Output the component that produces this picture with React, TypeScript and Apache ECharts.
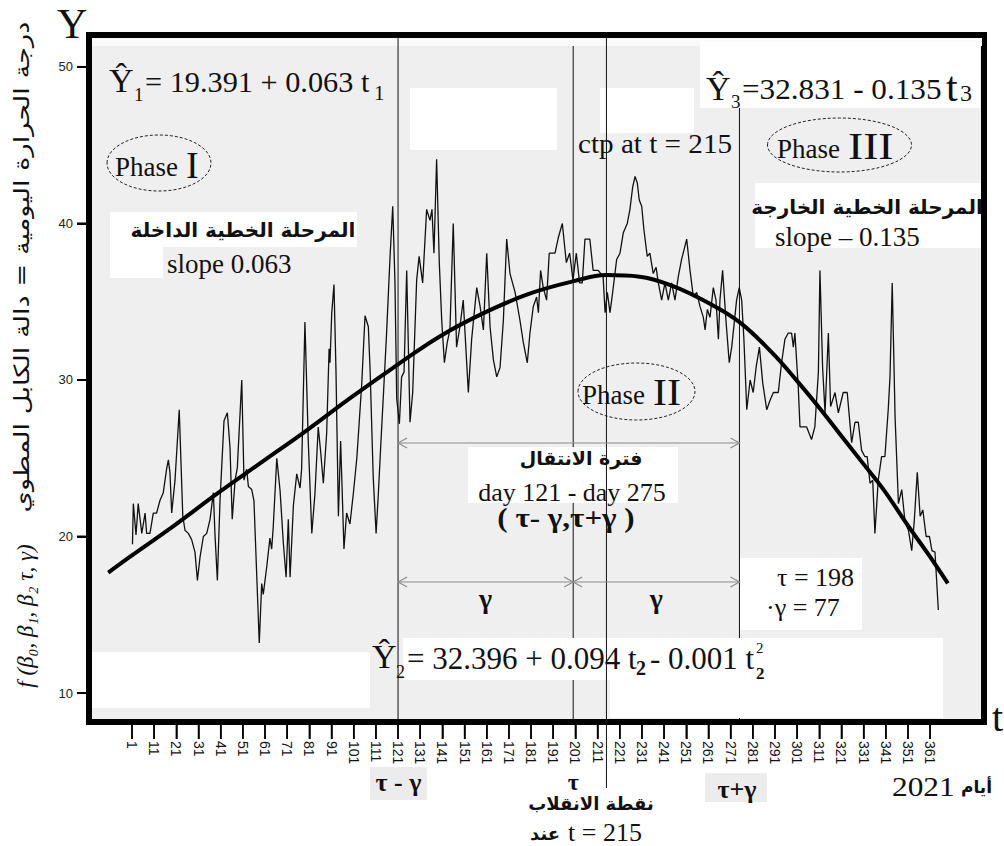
import React, { useEffect, useRef } from "react";
import * as echarts from "echarts";

// observed daily temperature (day of 2021, value)
const obsDays = [
  1.2, 1.6, 2.8, 3.8, 5.4, 6.9, 7.6, 9.1, 10.6, 12.1, 13.6, 15.1, 15.9, 16.6, 17.4, 18.1, 18.9, 20.4, 22.3, 23.9,
  24.9, 26.4, 27.9, 29.4, 30.5, 31.7, 33.2, 34.7, 36.2, 37.7, 38.4, 39.5, 40.7, 42.5, 44.0, 45.2, 46.2, 47.5, 48.5, 50.5,
  51.5, 52.7, 53.5, 55.0, 56.0, 58.4, 59.5, 60.2, 61.8, 63.2, 64.0, 64.7, 66.3, 67.8, 69.2, 70.5, 71.5, 72.3, 73.8, 75.3,
  76.8, 77.5, 79.0, 80.5, 82.1, 83.5, 85.0, 86.1, 87.3, 88.8, 89.9, 90.3, 91.1, 92.1, 93.0, 94.1, 95.1, 96.6, 97.8, 99.3,
  100.8, 102.4, 104.6, 106.1, 107.6, 108.4, 109.8, 111.1, 112.1, 113.3, 114.3, 115.8, 117.4, 118.6, 119.6, 120.4, 121.6, 122.6, 123.7, 124.9,
  126.4, 127.6, 129.4, 130.5, 132.1, 133.9, 135.4, 136.3, 137.2, 138.4, 139.6, 140.7, 141.9, 143.2, 144.4, 145.9, 147.4, 148.9, 150.4, 152.7,
  154.2, 156.5, 158.0, 159.5, 161.0, 162.5, 164.0, 165.5, 167.0, 168.5, 170.0, 171.5, 173.8, 176.0, 177.5, 179.3, 180.5, 182.0, 183.5, 184.3,
  185.3, 186.5, 188.0, 189.2, 191.8, 193.3, 195.1, 196.9, 198.4, 199.9, 201.4, 202.9, 204.1, 205.3, 207.5, 209.0, 211.3, 213.5, 214.4, 215.4,
  216.6, 217.8, 219.6, 221.1, 222.6, 224.4, 225.6, 226.8, 227.9, 228.9, 229.8, 230.9, 231.9, 233.4, 234.6, 236.1, 237.4, 238.4, 239.9, 241.4,
  242.9, 244.4, 245.9, 247.4, 248.9, 251.2, 252.7, 254.2, 255.7, 257.2, 258.7, 259.5, 260.5, 261.7, 263.2, 264.4, 265.5, 266.2, 267.4, 268.9,
  270.4, 271.5, 273.7, 274.9, 276.0, 277.0, 278.3, 279.8, 281.2, 282.5, 284.0, 285.5, 287.3, 288.8, 290.3, 292.5, 294.0, 295.5, 297.0, 298.5,
  299.3, 300.0, 301.5, 302.3, 305.3, 307.5, 309.0, 310.6, 311.3, 312.5, 313.6, 315.1, 316.1, 318.1, 319.6, 321.8, 323.6, 325.6, 327.1, 328.6,
  330.1, 331.6, 332.6, 333.9, 335.1, 336.1, 337.6, 339.1, 340.6, 342.1, 342.9, 343.9, 345.2, 346.7, 348.2, 349.7, 351.2, 352.7, 353.8, 355.2,
  356.5, 357.7, 359.2, 360.7, 361.8, 363.2, 364.7,
];
const obsTemps = [
  19.5, 22.1, 20.1, 22.1, 20.2, 21.5, 20.2, 20.2, 21.5, 21.5, 22.3, 22.8, 23.6, 24.3, 24.9, 24.1, 21.5, 23.6, 28.1, 21.3,
  20.4, 20.2, 19.8, 19.0, 17.2, 18.7, 20.0, 20.2, 21.1, 22.8, 20.2, 17.2, 22.3, 27.4, 27.9, 25.7, 21.1, 23.6, 24.4, 30.0,
  23.6, 24.3, 23.2, 23.0, 22.3, 13.2, 17.0, 16.3, 18.1, 19.9, 19.2, 20.6, 25.0, 22.9, 19.7, 17.4, 21.1, 17.4, 22.0, 24.0,
  23.1, 24.3, 33.7, 26.1, 20.2, 22.7, 27.0, 25.4, 23.4, 26.6, 32.0, 31.1, 34.3, 36.1, 30.6, 21.3, 26.1, 19.2, 21.5, 20.8,
  22.7, 25.0, 29.7, 34.1, 33.4, 30.6, 23.8, 20.2, 22.7, 26.1, 28.8, 32.9, 37.9, 41.1, 36.3, 28.8, 27.2, 30.2, 30.5, 37.0,
  27.3, 29.2, 36.4, 37.9, 36.2, 40.9, 40.2, 40.9, 38.1, 44.1, 37.5, 33.8, 31.1, 32.4, 33.2, 40.0, 32.1, 33.4, 35.1, 29.2,
  32.6, 35.9, 34.7, 33.2, 38.1, 33.4, 31.3, 30.2, 30.8, 33.8, 39.0, 36.8, 35.6, 33.8, 32.4, 31.1, 33.0, 34.7, 35.3, 34.3,
  37.0, 35.9, 35.1, 38.1, 38.1, 39.1, 40.0, 37.5, 38.1, 36.4, 38.1, 36.2, 36.2, 39.0, 39.0, 37.0, 37.0, 36.6, 34.3, 35.6,
  34.3, 35.6, 37.7, 38.1, 39.4, 40.0, 40.9, 42.3, 43.0, 42.6, 41.5, 41.1, 39.6, 37.9, 38.1, 36.8, 37.2, 36.2, 35.1, 36.2,
  35.1, 36.2, 35.1, 36.6, 37.7, 39.0, 37.0, 35.3, 35.6, 34.7, 34.0, 33.2, 34.5, 34.0, 35.9, 35.1, 32.6, 35.1, 37.0, 33.8,
  31.1, 32.1, 35.1, 35.9, 35.1, 32.6, 28.1, 30.0, 29.2, 30.8, 32.1, 29.8, 28.1, 28.7, 29.2, 29.2, 31.1, 32.6, 33.0, 33.0,
  32.1, 33.0, 29.6, 27.0, 27.0, 26.2, 27.0, 30.5, 37.0, 30.8, 27.9, 33.0, 28.3, 29.2, 27.9, 29.2, 29.2, 26.0, 27.3, 27.3,
  25.5, 25.1, 25.1, 23.4, 23.6, 20.2, 23.6, 25.1, 25.1, 28.1, 30.2, 36.2, 27.6, 22.1, 23.0, 20.9, 20.4, 19.1, 20.9, 24.1,
  21.3, 21.7, 20.0, 20.0, 19.1, 19.0, 15.3,
];

// fitted cable (folded) curve
const fitDays = [-9.7, 0, 20, 40, 60, 80, 100, 121, 140, 160, 180, 200, 215, 230, 245, 260, 275, 290, 300, 310, 320, 330, 340, 350, 360, 369];
const fitTemps = [17.7, 18.7, 20.7, 22.8, 24.8, 26.8, 28.9, 31.0, 32.8, 34.3, 35.5, 36.3, 36.7, 36.6, 36.0, 35.0, 33.7, 31.7, 30.1, 28.4, 26.6, 24.8, 23.0, 20.9, 18.9, 17.0];

const xTickDays = [1, 11, 21, 31, 41, 51, 61, 71, 81, 91, 101, 111, 121, 131, 141, 151, 161, 171, 181, 191, 201, 211, 221, 231, 241, 251, 261, 271, 281, 291, 301, 311, 321, 331, 341, 351, 361];
const yTicks = [10, 20, 30, 40, 50];
// vertical markers as drawn: tau-gamma, tau, ctp, tau+gamma
const markerDays = [121, 200, 215, 275];
const xRange = [-18.4, 385.3];
const yRange = [8.15, 52.04];

const SERIF = "Liberation Serif, Times New Roman, serif";
const AR = "DejaVu Sans, sans-serif";

function txt(x: number, y: number, text: string, size: number, o: any = {}) {
  return {
    type: "text",
    x,
    y,
    z: 30,
    rotation: o.rot || 0,
    scaleX: o.sx || 1,
    scaleY: o.sy || 1,
    style: {
      text,
      x: 0,
      y: 0,
      fill: o.color || "#111",
      fontSize: size,
      fontFamily: o.family || SERIF,
      fontWeight: o.bold ? "bold" : "normal",
      fontStyle: o.italic ? "italic" : "normal",
      align: o.align || "left",
      verticalAlign: "middle",
      textAlign: o.align || "left",
      textVerticalAlign: "middle",
    },
  };
}
function rect(x: number, y: number, w: number, h: number, fill = "#ffffff", z = 5) {
  return { type: "rect", z, shape: { x, y, width: w, height: h }, style: { fill } };
}
function seg(x1: number, y1: number, x2: number, y2: number, w = 1, z = 4, color = "#111") {
  return { type: "line", z, shape: { x1, y1, x2, y2 }, style: { stroke: color, lineWidth: w } };
}
function vline(x: number, y1: number, y2: number, z = 4) {
  return seg(x, y1, x, y2, 1, z);
}
function hline(x1: number, x2: number, y: number) {
  return seg(x1, y, x2, y, 1.2, 25, "#8c8c8c");
}
function head(x: number, y: number, dir: number) {
  return {
    type: "polyline",
    z: 25,
    shape: { points: [[x - dir * 9, y - 5], [x, y], [x - dir * 9, y + 5]] },
    style: { stroke: "#8c8c8c", fill: null, lineWidth: 1.2 },
  };
}
function ell(cx: number, cy: number, rx: number, ry: number) {
  return { type: "ellipse", z: 28, shape: { cx, cy, rx, ry }, style: { fill: null, stroke: "#222", lineWidth: 1, lineDash: [3, 2] } };
}

export default function App() {
  const ref = useRef<HTMLDivElement>(null);
  useEffect(() => {
    if (!ref.current) return;
    const chart = echarts.init(ref.current, undefined, { renderer: "svg" });
    const axisFont = "Liberation Sans, Arial, sans-serif";
    const option: any = {
      animation: false,
      backgroundColor: "#ffffff",
      grid: {
        left: 89,
        right: 20,
        top: 35,
        bottom: 124,
        show: true,
        backgroundColor: "#efefef",
        borderColor: "#000",
        borderWidth: 6,
      },
      xAxis: {
        type: "value",
        position: "bottom",
        min: xRange[0],
        max: xRange[1],
        axisLine: { show: true, onZero: false, lineStyle: { color: "#000", width: 6 } },
        splitLine: { show: false },
        axisTick: { show: true, customValues: xTickDays, length: 17, lineStyle: { color: "#000", width: 1.5 } },
        axisLabel: { customValues: xTickDays, rotate: -90, margin: 19, fontSize: 14, color: "#111", fontFamily: axisFont },
      },
      yAxis: {
        type: "value",
        position: "left",
        min: yRange[0],
        max: yRange[1],
        axisLine: { show: true, onZero: false, lineStyle: { color: "#000", width: 6 } },
        splitLine: { show: false },
        axisTick: { show: true, customValues: yTicks, length: 12, lineStyle: { color: "#000", width: 2 } },
        axisLabel: { customValues: yTicks, margin: 16, fontSize: 13, color: "#222", fontFamily: axisFont },
      },
      series: [
        {
          type: "line",
          data: obsDays.map((d, i) => [d, obsTemps[i]]),
          symbol: "none",
          z: 10,
          lineStyle: { color: "#111", width: 1.3 },
        },
        {
          type: "line",
          data: fitDays.map((d, i) => [d, fitTemps[i]]),
          symbol: "none",
          smooth: 0.4,
          z: 11,
          lineStyle: { color: "#000", width: 4 },
        },
      ],
    };
    chart.setOption(option);

    const xp = (d: number) => chart.convertToPixel({ xAxisIndex: 0 }, d) as number;
    const yp = (v: number) => chart.convertToPixel({ yAxisIndex: 0 }, v) as number;
    const yTop = yp(yRange[1]) + 3;
    const yBot = yp(yRange[0]) - 3;
    const xLeft = xp(xRange[0]);
    const yBottom = yp(yRange[0]);
    const [xA, xT, xC, xB] = markerDays.map(xp);

    const ticks: any[] = [
      ...xTickDays.map((d) => seg(xp(d), yBottom, xp(d), yBottom + 17, 1.5, 40, "#000")),
      ...yTicks.map((v) => seg(xLeft - 12, yp(v), xLeft, yp(v), 2, 40, "#000")),
    ];

    const g: any[] = [
      ...ticks,
      // white patches inside the frame
      rect(92, 38, 890, 8, "#fafafa"),
      rect(110, 212, 247, 35),
      rect(110, 247, 53, 31),
      rect(410, 88, 147, 62),
      rect(600, 88, 94, 45),
      rect(700, 42, 280, 66),
      rect(755, 183, 226, 65),
      rect(468, 447, 210, 56),
      rect(740, 558, 122, 72),
      rect(403, 638, 540, 42),
      rect(92, 652, 278, 56),
      rect(610, 680, 333, 38),
      // vertical markers
      vline(xA, yTop, yBot, 12),
      vline(xT, yTop, yBot, 4),
      vline(xC, yTop, 788, 12),
      vline(xB, yTop, yBot, 4),
      // transition arrow
      hline(xA, xB, 443),
      head(xA, 443, -1),
      head(xB, 443, 1),
      // gamma arrows
      hline(xA, xB, 582),
      head(xA, 582, -1),
      head(xT, 582, 1),
      head(xT, 582, -1),
      head(xB, 582, 1),
      // ellipses
      ell(159, 163, 52, 28),
      ell(839.5, 145, 72, 27),
      ell(636.5, 391.5, 58.5, 28.5),
      // axis letters
      txt(57, 24, "Y", 42),
      txt(992, 717, "t", 40),
      // Y1 equation
      txt(109, 80, "Ŷ", 34),
      txt(134, 94, "1", 19),
      txt(145, 82, "= 19.391 + 0.063 t", 30, { sx: 1.01 }),
      txt(374, 93, "1", 21),
      // Phase I
      txt(115, 167, "Phase", 27),
      txt(186, 165, "I", 38),
      txt(243, 230, "المرحلة الخطية الداخلة", 20, { family: AR, bold: true, align: "center" }),
      txt(167, 264, "slope 0.063", 27),
      // ctp
      txt(578, 144, "ctp at t = 215", 27, { sx: 1.08 }),
      // Y3 equation
      txt(706, 88, "Ŷ", 34),
      txt(731, 101, "3", 19),
      txt(742, 89, "=32.831 - 0.135", 30, { sx: 1.04 }),
      txt(946, 87, "t", 42),
      txt(960, 93, "3", 24),
      // Phase III
      txt(777, 149, "Phase", 27),
      txt(848, 146, "III", 38, { sx: 1.2 }),
      txt(867, 207, "المرحلة الخطية الخارجة", 20, { family: AR, bold: true, align: "center" }),
      txt(775, 237, "slope – 0.135", 27),
      // Phase II
      txt(582, 395, "Phase", 27),
      txt(653, 392, "II", 38, { sx: 1.1 }),
      // transition period
      txt(581, 458, "فترة الانتقال", 19, { family: AR, bold: true, align: "center" }),
      txt(572, 492, "day 121 - day 275", 26, { align: "center" }),
      txt(566, 518, "( τ- γ,τ+γ )", 27, { bold: true, align: "center", sx: 1.15 }),
      // gamma labels
      txt((xA + xT) / 2, 598, "γ", 28, { bold: true, align: "center" }),
      txt((xT + xB) / 2, 598, "γ", 28, { bold: true, align: "center" }),
      txt(777, 577, "τ = 198", 26),
      txt(766, 607, "·γ = 77", 26),
      // Y2 equation
      txt(372, 656, "Ŷ", 34),
      txt(396, 672, "2", 18),
      txt(407, 658, "= 32.396 + 0.094 t", 31),
      txt(636, 668, "2", 20, { bold: true }),
      txt(650, 658, "- 0.001 t", 31),
      txt(756, 648, "2", 15),
      txt(756, 673, "2", 17, { bold: true }),
      // below the axis
      rect(370, 767, 57, 33, "#ececec", 20),
      txt(398.5, 782, "τ - γ", 26, { bold: true, align: "center" }),
      txt(xT, 782, "τ", 24, { bold: true, align: "center" }),
      txt(591, 803, "نقطة الانقلاب", 18, { family: AR, bold: true, align: "center" }),
      txt(530, 833, "عند", 18, { family: AR, bold: true }),
      txt(568, 832, "t = 215", 26),
      rect(705, 773, 62, 29, "#ececec", 20),
      txt(737, 789, "τ+γ", 26, { bold: true, align: "center" }),
      txt(892, 787, "2021", 28, { sx: 1.12 }),
      txt(961, 787, "أيام", 17, { family: AR, bold: true }),
      // y title (rotated)
      txt(22, 267, "درجة الحرارة اليومية = دالة الكابل المطوي", 21, { family: AR, rot: Math.PI / 2, align: "center", sx: 1.3 }),
      txt(25, 616, "f (β₀, β₁, β₂ τ, γ)", 23, { italic: true, rot: Math.PI / 2, align: "center" }),
    ];
    chart.setOption({ graphic: { elements: g } });
    return () => chart.dispose();
  }, []);
  return <div ref={ref} style={{ position: "absolute", left: 0, top: 0, width: 1004, height: 846 }} />;
}
